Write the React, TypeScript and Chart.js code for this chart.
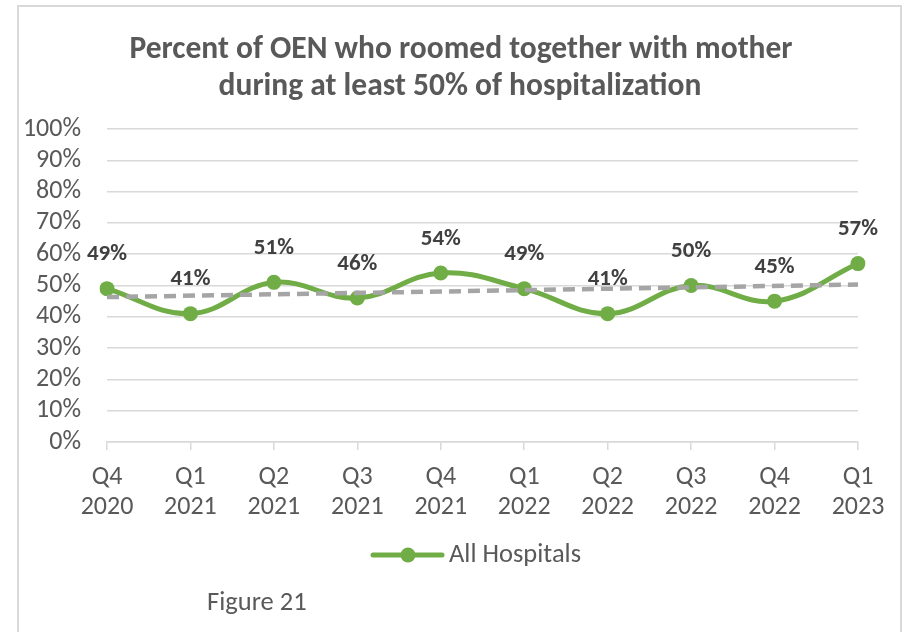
import React, { useEffect, useRef } from "react";
import { Chart, registerables } from "chart.js";

Chart.register(...registerables);

const categories: string[][] = [
  ["Q4", "2020"], ["Q1", "2021"], ["Q2", "2021"], ["Q3", "2021"], ["Q4", "2021"],
  ["Q1", "2022"], ["Q2", "2022"], ["Q3", "2022"], ["Q4", "2022"], ["Q1", "2023"],
];
const allHospitals: number[] = [49, 41, 51, 46, 54, 49, 41, 50, 45, 57];
const trendStartEnd: number[] = [46.3, 50.3];
const titleLines: string[] = [
  "Percent of OEN who roomed together with mother",
  "during at least 50% of hospitalization",
];
const legendLabel = "All Hospitals";
const figureCaption = "Figure 21";

const FONT = "Carlito, Lato, 'Liberation Sans', sans-serif";
const GREEN = "#70AD47";
const GRAY_TEXT = "#595959";
const GRID = "#D9D9D9";

const trendData: (number | null)[] = categories.map((_, i) =>
  i === 0 ? trendStartEnd[0] : i === categories.length - 1 ? trendStartEnd[1] : null
);

const decorPlugin = {
  id: "decor",
  afterDatasetsDraw(chart: any) {
    const ctx = chart.ctx;
    ctx.save();
    const meta = chart.getDatasetMeta(1);
    ctx.font = `bold 23px ${FONT}`;
    ctx.fillStyle = "#404040";
    ctx.textAlign = "center";
    ctx.textBaseline = "middle";
    meta.data.forEach((pt: any, i: number) => {
      ctx.fillText(`${allHospitals[i]}%`, pt.x, pt.y - 34);
    });
    ctx.restore();
  },
  afterDraw(chart: any) {
    const ctx = chart.ctx;
    ctx.save();
    ctx.font = `bold 31.5px ${FONT}`;
    ctx.fillStyle = GRAY_TEXT;
    ctx.textAlign = "center";
    ctx.textBaseline = "middle";
    ctx.fillText(titleLines[0], 461, 50);
    ctx.fillText(titleLines[1], 460, 87);
    ctx.strokeStyle = GREEN;
    ctx.lineWidth = 5;
    ctx.lineCap = "round";
    ctx.beginPath();
    ctx.moveTo(373, 555);
    ctx.lineTo(442, 555);
    ctx.stroke();
    ctx.fillStyle = GREEN;
    ctx.beginPath();
    ctx.arc(408, 555, 7.5, 0, Math.PI * 2);
    ctx.fill();
    ctx.font = `26.5px ${FONT}`;
    ctx.fillStyle = GRAY_TEXT;
    ctx.textAlign = "left";
    ctx.fillText(legendLabel, 449, 555);
    ctx.fillText(figureCaption, 207, 603);
    ctx.restore();
  },
};

export default function App() {
  const ref = useRef<HTMLCanvasElement | null>(null);
  useEffect(() => {
    if (!ref.current) return;
    const chart = new Chart(ref.current, {
      type: "line",
      data: {
        labels: categories,
        datasets: [
          {
            label: "Trend",
            data: trendData,
            borderColor: "#A5A5A5",
            borderWidth: 4.5,
            borderDash: [12, 7],
            pointRadius: 0,
            spanGaps: true,
            tension: 0,
            fill: false,
          },
          {
            label: legendLabel,
            data: allHospitals,
            borderColor: GREEN,
            backgroundColor: GREEN,
            borderWidth: 5,
            pointRadius: 7.5,
            pointBackgroundColor: GREEN,
            pointBorderColor: GREEN,
            pointBorderWidth: 0,
            tension: 0.4,
            fill: false,
          },
        ],
      },
      options: {
        animation: false,
        responsive: false,
        maintainAspectRatio: false,
        layout: { padding: { left: 0, right: 45, top: 129, bottom: 105 } },
        plugins: {
          legend: { display: false },
          title: { display: false },
          tooltip: { enabled: false },
        },
        scales: {
          x: {
            offset: false,
            grid: {
              display: true,
              drawOnChartArea: false,
              drawTicks: true,
              tickLength: 8,
              color: GRID,
              lineWidth: 1.5,
            },
            border: { display: true, color: GRID, width: 1.5 },
            ticks: {
              color: GRAY_TEXT,
              font: { family: FONT, size: 26, lineHeight: 1.15 },
              padding: 13,
              maxRotation: 0,
              autoSkip: false,
            },
            afterFit(scale: any) {
              scale.height = 85;
            },
          },
          y: {
            min: 0,
            max: 100,
            ticks: {
              stepSize: 10,
              autoSkip: false,
              color: GRAY_TEXT,
              font: { family: FONT, size: 26 },
              padding: 26,
              callback: (v: any) => `${v}%`,
            },
            grid: { color: GRID, lineWidth: 1.5, drawTicks: false },
            border: { display: false },
            afterFit(scale: any) {
              scale.width = 107;
            },
          },
        },
      },
      plugins: [decorPlugin],
    });
    return () => chart.destroy();
  }, []);

  return (
    <div style={{ position: "absolute", left: 0, top: 0, width: 903, height: 632, background: "#fff", overflow: "hidden" }}>
      <canvas ref={ref} width={903} height={632} style={{ position: "absolute", left: 0, top: 0, width: 903, height: 632 }} />
      <div
        style={{
          position: "absolute",
          left: 17,
          top: 5,
          width: 881,
          height: 700,
          borderLeft: "2px solid #D9D9D9",
          borderTop: "2px solid #D9D9D9",
          borderRight: "2px solid #D9D9D9",
          pointerEvents: "none",
        }}
      />
    </div>
  );
}
